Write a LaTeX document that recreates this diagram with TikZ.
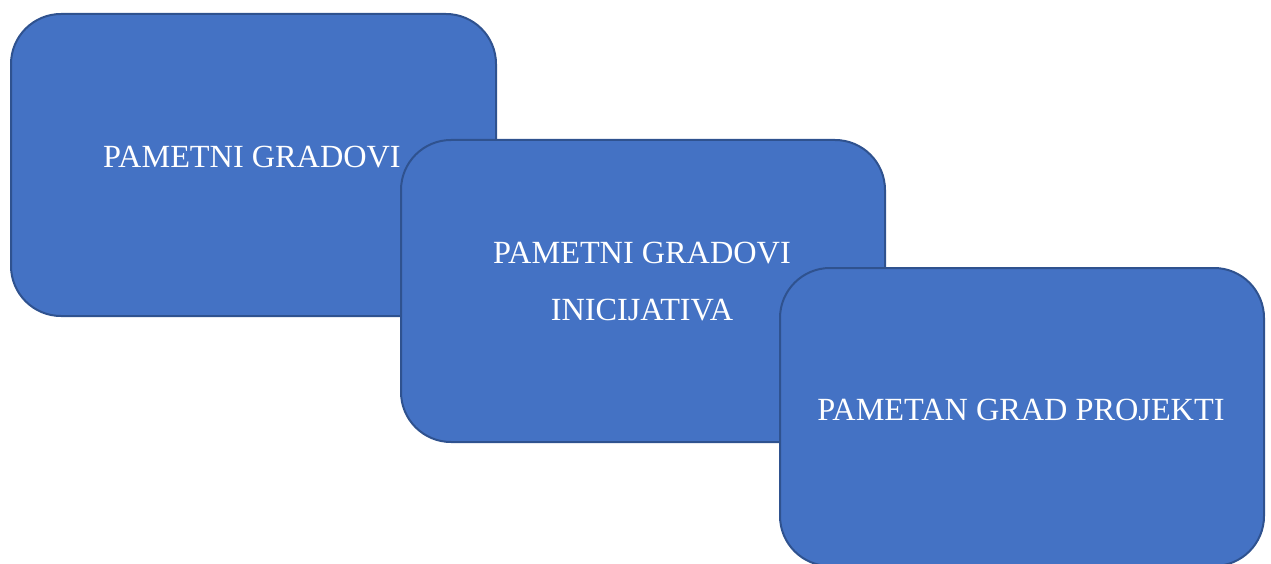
\documentclass[tikz,border=0pt]{standalone}
\usepackage{fontspec}
\setmainfont{Liberation Serif}
\definecolor{boxfill}{HTML}{4472C4}
\definecolor{boxline}{HTML}{2F528F}
\begin{document}
\begin{tikzpicture}[x=1pt,y=-1pt,
  card/.style={draw=boxline,fill=boxfill,line width=2pt,rounded corners=50pt},
  lbl/.style={text=white,font=\fontsize{32.3}{57}\selectfont,align=center}]
\useasboundingbox (0,0) rectangle (1271,564);
\clip (0,0) rectangle (1271,564);
\draw[card] (11,14) rectangle (496,316);
\node[lbl] (t1) at (252,157) {PAMETNI GRADOVI};
\draw[card] (401,140) rectangle (885,442);
\node[lbl] (t2) at (642,282) {PAMETNI GRADOVI\\INICIJATIVA};
\draw[card] (780,268) rectangle (1264,566);
\node[lbl] (t3) at (1021,410) {PAMETAN GRAD PROJEKTI};
\end{tikzpicture}
\end{document}
